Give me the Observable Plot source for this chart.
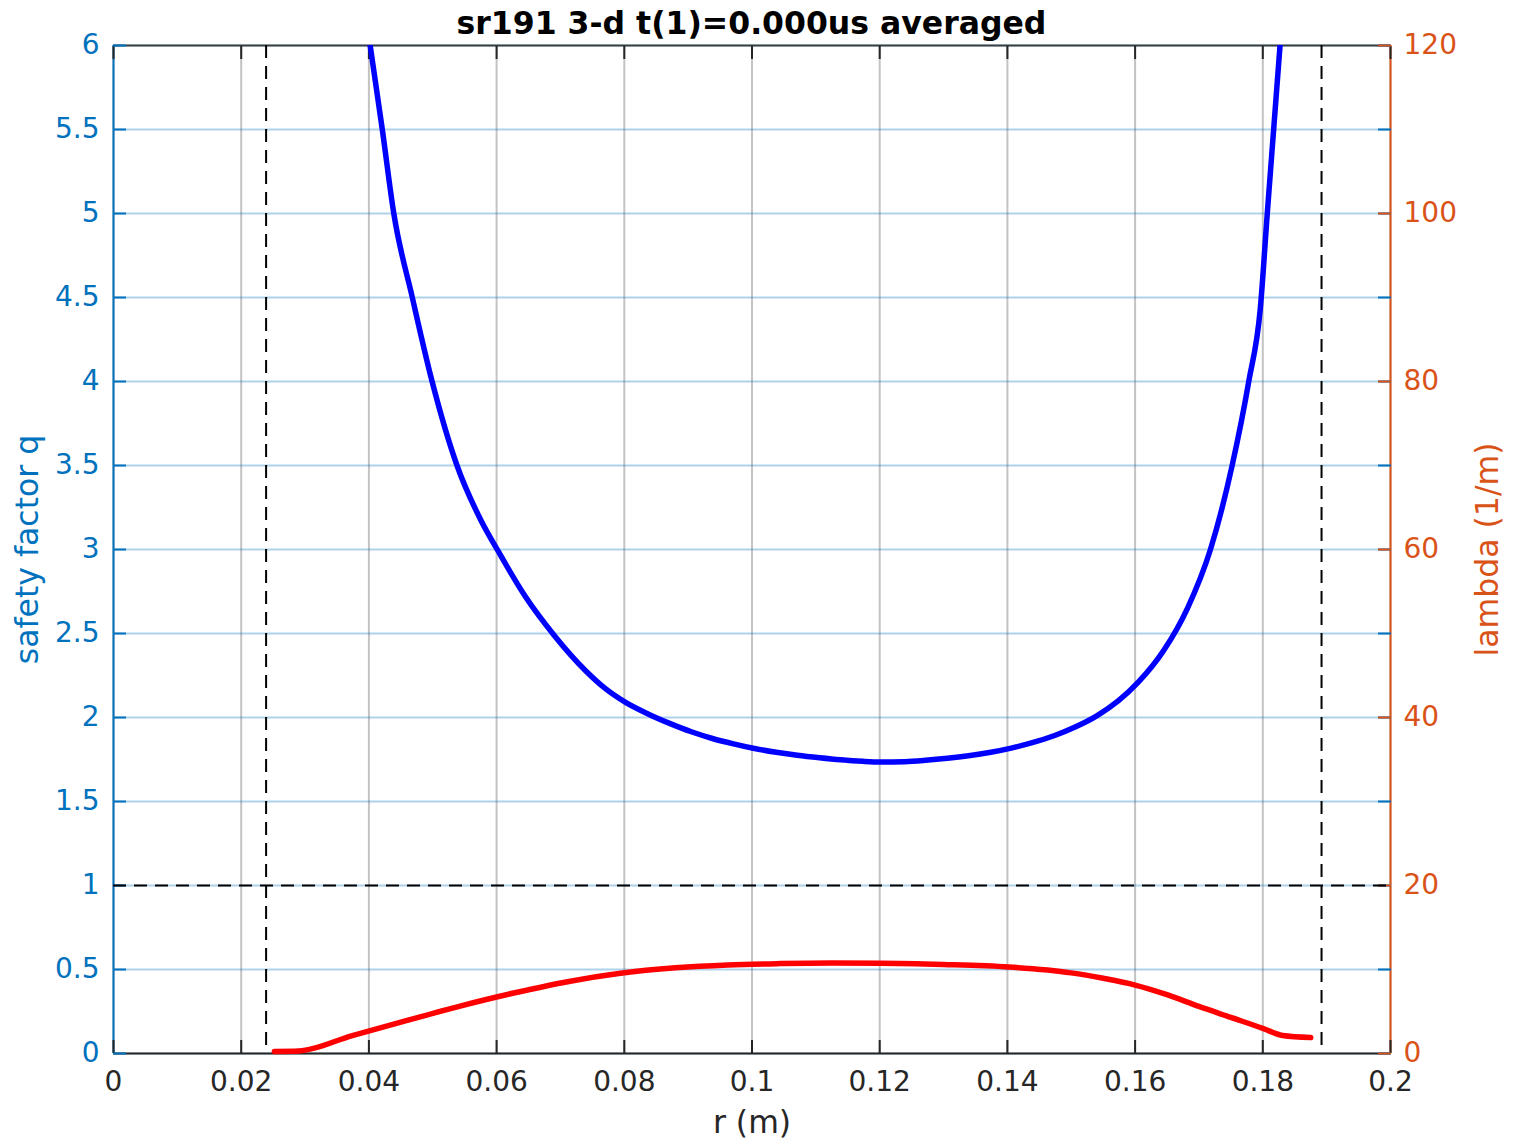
<!DOCTYPE html>
<html>
<head>
<meta charset="utf-8">
<script src="https://cdn.jsdelivr.net/npm/d3@7"></script>
<script src="https://cdn.jsdelivr.net/npm/@observablehq/plot@0.6"></script>
<style>
  html, body { margin: 0; padding: 0; background: #ffffff; }
  #wrap { width: 1513px; }
  #title { width: 1513px; height: 40px; line-height: 46px; overflow: visible; font-family: "DejaVu Sans", sans-serif; font-weight: bold; font-size: 31.5px; color: #000; text-align: center; box-sizing: border-box; padding-right: 10px; white-space: nowrap; }
  #chart svg { overflow: visible; display: block; }
</style>
</head>
<body>
<div id="wrap">
  <div id="title">sr191 3-d t(1)=0.000us averaged</div>
  <div id="chart"></div>
</div>
<script>
// Safety factor q (left axis) vs r (m)
const rQ = [0.0402, 0.0421, 0.0439, 0.0468, 0.0499, 0.0538, 0.0576, 0.0601, 0.0645, 0.0690, 0.0739, 0.0771, 0.0802, 0.0838, 0.0871, 0.0905, 0.0938, 0.0971, 0.1002, 0.1038, 0.1071, 0.1106, 0.1139, 0.1173, 0.1201, 0.1239, 0.1272, 0.1306, 0.1339, 0.1374, 0.1406, 0.1439, 0.1474, 0.1507, 0.1540, 0.1574, 0.1605, 0.1645, 0.1682, 0.1718, 0.1752, 0.1778, 0.1796, 0.1807, 0.1817, 0.1827];
const qVals = [6.0, 5.5, 5.0, 4.5, 4.0, 3.5, 3.17, 3.0, 2.72, 2.49, 2.28, 2.17, 2.09, 2.02, 1.965, 1.915, 1.875, 1.843, 1.817, 1.793, 1.775, 1.76, 1.748, 1.739, 1.735, 1.737, 1.745, 1.757, 1.772, 1.793, 1.818, 1.85, 1.893, 1.945, 2.01, 2.10, 2.21, 2.40, 2.65, 3.0, 3.5, 4.0, 4.43, 5.0, 5.5, 6.0];

// lambda (1/m) (right axis) vs r (m)
const rLam = [0.0252, 0.0290, 0.0374, 0.0460, 0.0543, 0.0627, 0.0711, 0.0794, 0.0880, 0.0962, 0.1045, 0.1125, 0.1201, 0.1300, 0.1402, 0.1500, 0.1550, 0.1600, 0.1650, 0.1700, 0.1750, 0.1800, 0.1831, 0.1875];
const lamVals = [0.25, 0.3, 2.14, 3.95, 5.65, 7.2, 8.55, 9.55, 10.2, 10.55, 10.7, 10.76, 10.75, 10.6, 10.3, 9.6, 8.95, 8.15, 7.0, 5.6, 4.3, 3.0, 2.14, 1.9];

// Axes / ticks
const xTicks = [0, 0.02, 0.04, 0.06, 0.08, 0.1, 0.12, 0.14, 0.16, 0.18, 0.2];
const qTicks = [0, 0.5, 1, 1.5, 2, 2.5, 3, 3.5, 4, 4.5, 5, 5.5, 6];
const lambdaTicks = [0, 20, 40, 60, 80, 100, 120];
const lambdaMax = 120;
const qMax = 6;
const xDomain = [0, 0.2];

// Reference lines
const refR = [0.0239, 0.1892];
const refQ = [1];

const xLabel = "r (m)";
const yLabelLeft = "safety factor q";
const yLabelRight = "lambda (1/m)";

const qData = rQ.map((r, i) => ({r, q: qVals[i]}));
const lamData = rLam.map((r, i) => ({r, lambda: lamVals[i]}));
const ratio = qMax / lambdaMax;

const BLUE_AX = "#0072BD";
const ORANGE_AX = "#D95319";
const DARK = "#262626";

const chart = Plot.plot({
  width: 1513,
  height: 1099,
  marginTop: 5,
  marginBottom: 86,
  marginLeft: 113,
  marginRight: 123,
  x: {domain: xDomain, label: null},
  y: {domain: [0, qMax], label: null},
  style: {fontFamily: "DejaVu Sans, sans-serif", fontSize: "28px", background: "white", color: DARK, overflow: "visible"},
  marks: [
    Plot.gridX({ticks: xTicks, stroke: DARK, strokeOpacity: 0.28, strokeWidth: 2}),
    Plot.gridY({ticks: qTicks, stroke: BLUE_AX, strokeOpacity: 0.32, strokeWidth: 2}),
    // frame sides
    Plot.ruleY([0], {stroke: DARK, strokeWidth: 2}),
    Plot.ruleY([qMax], {stroke: DARK, strokeOpacity: 0.85, strokeWidth: 2}),
    Plot.ruleX([xDomain[0]], {stroke: BLUE_AX, strokeWidth: 2}),
    Plot.ruleX([xDomain[1]], {stroke: ORANGE_AX, strokeWidth: 2}),
    // x axis labels + inward ticks
    Plot.axisX({ticks: xTicks, anchor: "bottom", label: null, tickSize: 0, tickPadding: 18, tickFormat: d => String(d), color: DARK, fontSize: 28}),
    Plot.axisX({ticks: xTicks, anchor: "bottom", label: null, tickSize: 13, dy: -13, tickFormat: () => "", stroke: DARK, strokeWidth: 2}),
    Plot.axisX({ticks: xTicks, anchor: "top", label: null, tickSize: 13, dy: 13, tickFormat: () => "", stroke: DARK, strokeWidth: 2}),
    // left axis
    Plot.axisY({ticks: qTicks, anchor: "left", label: null, tickSize: 0, tickPadding: 14, tickFormat: d => String(d), color: BLUE_AX, fontSize: 28}),
    Plot.axisY({ticks: qTicks, anchor: "left", label: null, tickSize: 13, dx: 13, tickFormat: () => "", stroke: BLUE_AX, strokeWidth: 2}),
    // right axis (lambda)
    Plot.axisY({ticks: lambdaTicks.map(v => v * ratio), anchor: "right", label: null, tickSize: 0, tickPadding: 13, tickFormat: d => String(Math.round(d / ratio)), color: ORANGE_AX, fontSize: 28}),
    Plot.axisY({ticks: qTicks, anchor: "right", label: null, tickSize: 13, dx: -13, tickFormat: () => "", stroke: BLUE_AX, strokeWidth: 2}),
    Plot.axisY({ticks: lambdaTicks.map(v => v * ratio), anchor: "right", label: null, tickSize: 13, dx: -13, tickFormat: () => "", stroke: ORANGE_AX, strokeWidth: 2}),
    // reference dashed lines
    Plot.ruleY(refQ, {stroke: "black", strokeWidth: 2, strokeDasharray: "13,8"}),
    Plot.ruleX(refR, {y1: qMax, y2: 0, stroke: "black", strokeWidth: 2, strokeDasharray: "13,8"}),
    // data
    Plot.line(lamData, {x: "r", y: d => d.lambda * ratio, stroke: "#FF0000", strokeWidth: 5.5, strokeLinejoin: "round", curve: "monotone-x"}),
    Plot.line(qData, {x: "r", y: "q", stroke: "#0000FF", strokeWidth: 5.5, strokeLinejoin: "round", curve: "monotone-x", clip: true}),
    // axis titles
    Plot.text([xLabel], {text: d => d, frameAnchor: "bottom", lineAnchor: "middle", textAnchor: "middle", dy: 69, fill: DARK, fontSize: 31.5}),
    Plot.text([yLabelLeft], {text: d => d, frameAnchor: "left", lineAnchor: "middle", textAnchor: "middle", dx: -86, rotate: -90, fill: BLUE_AX, fontSize: 31.5}),
    Plot.text([yLabelRight], {text: d => d, frameAnchor: "right", lineAnchor: "middle", textAnchor: "middle", dx: 97, rotate: -90, fill: ORANGE_AX, fontSize: 31.5})
  ]
});
document.getElementById("chart").appendChild(chart);
</script>
</body>
</html>
